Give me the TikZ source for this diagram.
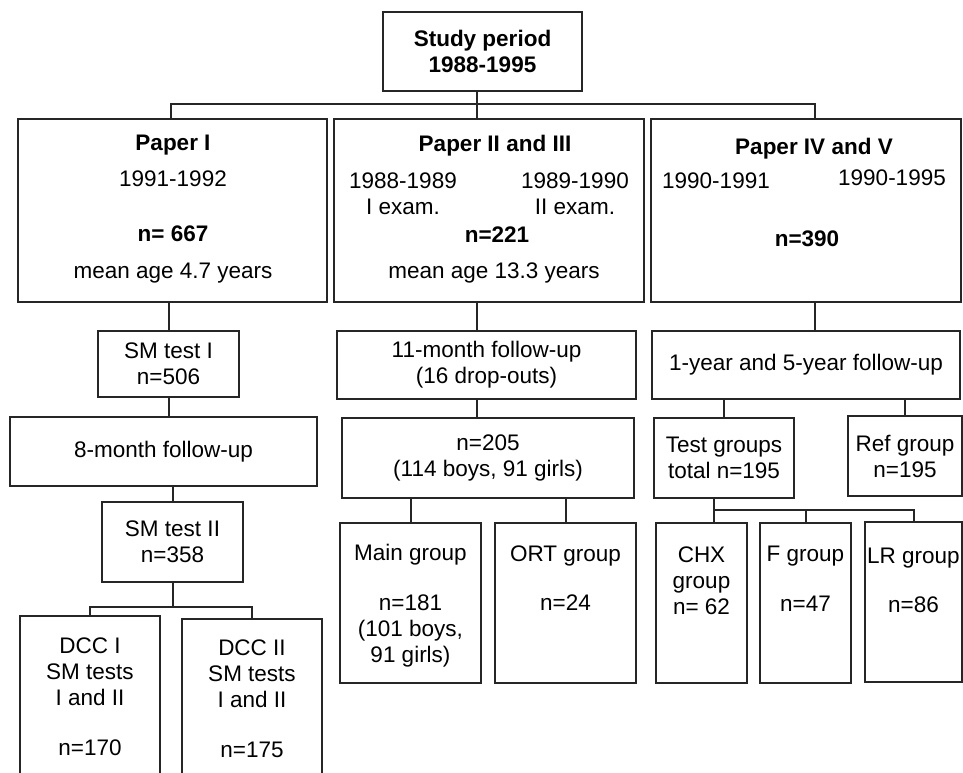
\documentclass[tikz,border=0pt]{standalone}
\usepackage{fontspec}
\setmainfont{Liberation Sans}
\usepackage{tikz}
\usetikzlibrary{positioning}

\begin{document}
\begin{tikzpicture}[x=1pt, y=1pt,
    stage/.style={rectangle, draw=black!85, line width=2pt, inner sep=0pt, align=center, font=\fontsize{22.5}{26}\selectfont},
    lbl/.style={inner sep=0pt, align=center, anchor=north, font=\fontsize{22.5}{26}\selectfont},
    head/.style={lbl, font=\fontsize{22.5}{26}\selectfont\bfseries},
    conn/.style={draw=black!85, line width=2pt}
]
\useasboundingbox (0,0) rectangle (963,-773);

% Study period
\node[stage, font=\fontsize{22.5}{26}\selectfont\bfseries, minimum width=199pt, minimum height=79pt] (study) at (482.5,-51.5) {Study period\\1988-1995};

% Papers
\node[stage, minimum width=309pt, minimum height=183pt] (paper1) at (172.5,-210.5) {};
\node[stage, minimum width=310pt, minimum height=183pt] (paper2) at (489,-210.5) {};
\node[stage, minimum width=310pt, minimum height=183pt] (paper4) at (806,-210.5) {};

\node[head] (p1title) at (173,-135) {Paper I};
\node[lbl] (p1years) at (173,-171) {1991-1992};
\node[head] (p1n) at (173,-226) {n= 667};
\node[lbl] (p1age) at (173,-263) {mean age 4.7 years};

\node[head] (p2title) at (495,-135) {Paper II and III};
\node[lbl] (p2first) at (403,-173) {1988-1989\\I exam.};
\node[lbl] (p2second) at (575,-173) {1989-1990\\II exam.};
\node[head] (p2n) at (497,-227) {n=221};
\node[lbl] (p2age) at (494,-263) {mean age 13.3 years};

\node[head] (p4title) at (814,-138) {Paper IV and V};
\node[lbl] (p4first) at (716,-173) {1990-1991};
\node[lbl] (p4second) at (892,-170) {1990-1995};
\node[head] (p4n) at (807,-231) {n=390};

% Paper I branch
\node[stage, minimum width=141pt, minimum height=66pt] (smtest1) at (168.5,-364) {SM test I\\n=506};
\node[stage, minimum width=307pt, minimum height=69pt] (follow8) at (163.5,-451.5) {8-month follow-up};
\node[stage, minimum width=141pt, minimum height=80pt] (smtest2) at (172.5,-542) {SM test II\\n=358};
\node[stage, minimum width=140pt, minimum height=174pt] (dcc1) at (90,-703) {};
\node[stage, minimum width=140pt, minimum height=171pt] (dcc2) at (252,-704.5) {};
\node[lbl] (dcc1txt) at (90,-638) {DCC I\\SM tests\\I and II\\[24pt]n=170};
\node[lbl] (dcc2txt) at (252,-640) {DCC II\\SM tests\\I and II\\[24pt]n=175};

% Paper II and III branch
\node[stage, minimum width=299pt, minimum height=68pt] (follow11) at (486.5,-365) {11-month follow-up\\(16 drop-outs)};
\node[stage, minimum width=292pt, minimum height=80pt] (n205) at (488,-458) {n=205\\(114 boys, 91 girls)};
\node[stage, minimum width=141pt, minimum height=160pt] (main) at (410.5,-603) {};
\node[stage, minimum width=141pt, minimum height=160pt] (ort) at (565.5,-603) {};
\node[lbl] (maintxt) at (410.5,-544) {Main group\\[24pt]n=181\\(101 boys,\\91 girls)};
\node[lbl] (orttxt) at (565.5,-546) {ORT group\\[23pt]n=24};

% Paper IV and V branch
\node[stage, minimum width=308pt, minimum height=68pt] (follow15) at (806,-365) {1-year and 5-year follow-up};
\node[stage, minimum width=140pt, minimum height=80pt] (testgrp) at (724,-458) {Test groups\\total n=195};
\node[stage, minimum width=114pt, minimum height=80pt] (refgrp) at (905,-456) {Ref group\\n=195};
\node[stage, minimum width=91pt, minimum height=160pt] (chx) at (701.5,-603) {};
\node[stage, minimum width=91pt, minimum height=160pt] (fgrp) at (805.5,-603) {};
\node[stage, minimum width=97pt, minimum height=160pt] (lr) at (913.5,-602) {};
\node[lbl] (chxtxt) at (701.5,-547) {CHX\\group\\n= 62};
\node[lbl] (fgrptxt) at (805.5,-546) {F group\\[24pt]n=47};
\node[lbl] (lrtxt) at (913.5,-548) {LR group\\[23pt]n=86};

% Junctions
\coordinate (jleft) at (171,-104);
\coordinate (jtop) at (477,-104);
\coordinate (jright) at (815,-104);
\coordinate (jdcc) at (171,-607);
\coordinate (jtest) at (714,-510);

% Connectors
\draw[conn] (jtop |- study.south) -- (jtop |- paper2.north);
\draw[conn] (jleft |- paper1.north) -- (jleft) -- (jright) -- (jright |- paper4.north);

\draw[conn] (smtest1.north) -- (smtest1.north |- paper1.south);
\draw[conn] (smtest1.south) -- (smtest1.south |- follow8.north);
\draw[conn] (smtest2.north) -- (smtest2.north |- follow8.south);
\draw[conn] (smtest2.south) -- (smtest2.south |- jdcc);
\draw[conn] (dcc1.north) |- (jdcc) -| (dcc2.north);

\draw[conn] (jtop |- paper2.south) -- (jtop |- follow11.north);
\draw[conn] (jtop |- follow11.south) -- (jtop |- n205.north);
\draw[conn] (main.north) -- (main.north |- n205.south);
\draw[conn] (ort.north) -- (ort.north |- n205.south);

\draw[conn] (jright |- paper4.south) -- (jright |- follow15.north);
\draw[conn] (testgrp.north) -- (testgrp.north |- follow15.south);
\draw[conn] (refgrp.north) -- (refgrp.north |- follow15.south);
\draw[conn] (jtest |- testgrp.south) -- (jtest |- chx.north);
\draw[conn] (jtest) -| (lr.north);
\draw[conn] (fgrp.north) -- (fgrp.north |- jtest);

\end{tikzpicture}
\end{document}
